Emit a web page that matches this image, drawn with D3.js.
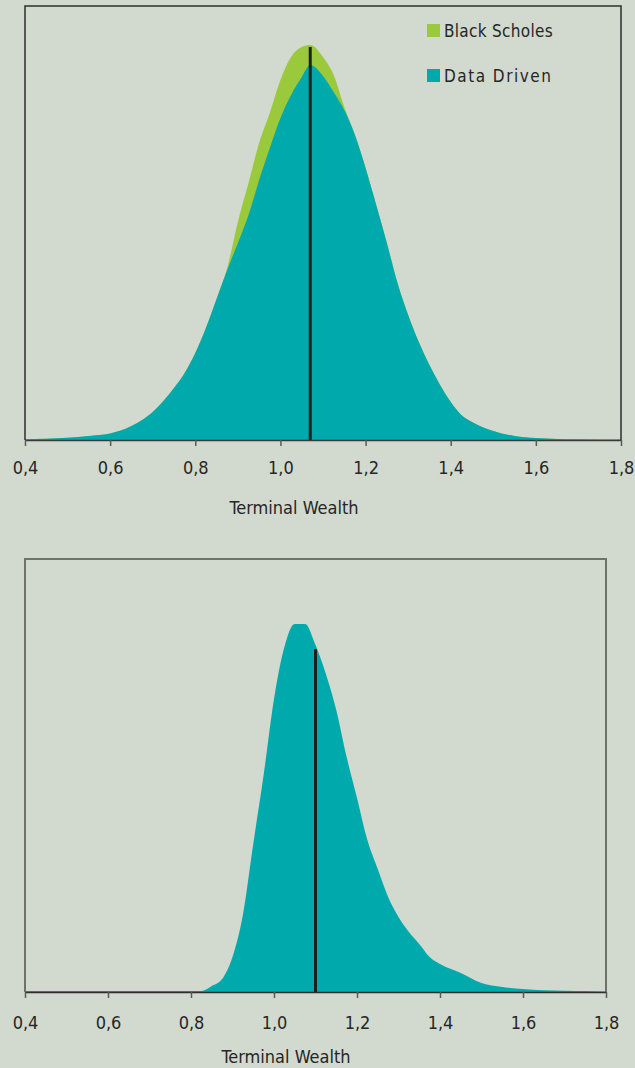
<!DOCTYPE html>
<html>
<head>
<meta charset="utf-8">
<style>
  html, body { margin: 0; padding: 0; background: #d2d9ce; }
  svg { display: block; }
  text { font-family: "DejaVu Sans Condensed", "DejaVu Sans", sans-serif; fill: #262626; }
</style>
</head>
<body>
<script src="https://cdn.jsdelivr.net/npm/d3@7"></script>
<script>

// *** DATA ***

// Top panel: terminal wealth grid and relative densities
var topX = [0.40,0.45,0.50,0.55,0.60,0.65,0.675,0.70,0.725,0.75,0.775,0.80,0.825,0.85,
            0.875,0.90,0.925,0.95,0.975,1.00,1.025,1.05,1.07,
            1.10,1.125,1.15,1.175,1.20,1.225,1.25,1.275,1.30,1.325,1.35,1.375,1.40,1.425,1.45,
            1.50,1.55,1.60,1.65,1.70,1.80];
var topDataDriven = [0.7,1.3,2.3,4,6.5,14,20,28,39,52,67,87,112,141,
                     170,197,225,260,292,322,345,363,375,
                     364,348,330,305,272,235,197,157,125,98,75,55,38,25,18,
                     9,4,2,1,0.7,0.5];
var topBlackScholes = [0.7,1.3,2.3,4,6.5,14,20,28,39,52,67,87,112,141,
                       172,218,257,297,327,360,383,393,395,
                       383,365,333,305,272,235,197,157,125,98,75,55,38,25,18,
                       9,4,2,1,0.7,0.5];
var topMean = 1.07, topMeanHeight = 393;

// Bottom panel
var botX = [0.40,0.60,0.80,0.825,0.85,0.875,0.90,0.925,0.95,0.975,1.00,
            1.025,1.05,1.075,1.10,1.125,1.15,1.175,1.20,
            1.225,1.25,1.275,1.30,1.325,1.35,1.375,1.40,
            1.45,1.50,1.55,1.60,1.65,1.70,1.75,1.80];
var botDataDriven = [1,1,1,1,6,13,35,77,148,217,293,
                     345,368,368,347,318,282,235,194,
                     152,123,95,75,60,48,35,28,
                     19,9,5,3,1.7,1.3,1,0.5];
var botMean = 1.10, botMeanHeight = 343;

var tickValues = [0.4,0.6,0.8,1.0,1.2,1.4,1.6,1.8];
var legendLabels = ["Black Scholes", "Data Driven"];
var axisTitle = "Terminal Wealth";

// *** STYLE ***
var cGreen = "#9aca3c", cTeal = "#00a9ac", cLine = "#1e1e1e";

var svg = d3.select("body").append("svg")
    .attr("width", 635)
    .attr("height", 1068);

// FUNCTION: draw one density panel
function drawPanel(p) {
    var x = d3.scaleLinear().domain([0.4, 1.8]).range([p.left, p.right]);
    var y = d3.scaleLinear().domain([0, p.yMax]).range([p.bottom, p.top]);

    var g = svg.append("g");

    var area = d3.area()
        .x(function(d){ return x(d[0]); })
        .y0(y(0))
        .y1(function(d){ return y(d[1]); })
        .curve(d3.curveMonotoneX);

    p.series.forEach(function(s) {
        g.append("path")
            .datum(d3.zip(p.xs, s.values))
            .attr("d", area)
            .attr("fill", s.color);
    });

    // mean marker
    g.append("line")
        .attr("x1", x(p.mean)).attr("x2", x(p.mean))
        .attr("y1", y(0)).attr("y2", y(p.meanHeight))
        .attr("stroke", cLine)
        .attr("stroke-width", 3);

    // frame (left, top, right)
    g.append("path")
        .attr("d", "M" + p.left + "," + p.bottom + "V" + p.top + "H" + p.right + "V" + p.bottom)
        .attr("fill", "none")
        .attr("stroke", p.frame)
        .attr("stroke-width", p.frameWidth);

    // x axis
    var axis = d3.axisBottom(x)
        .tickValues(tickValues)
        .tickSize(6)
        .tickSizeOuter(0)
        .tickPadding(p.tickPad)
        .tickFormat(function(d){ return d3.format(".1f")(d).replace(".", ","); });

    var ax = g.append("g")
        .attr("transform", "translate(0," + p.bottom + ")")
        .call(axis)
        .attr("font-size", 18)
        .attr("font-family", null);
    ax.select(".domain").attr("stroke", p.axisColor).attr("stroke-width", 1.5);
    ax.selectAll(".tick line").attr("stroke", "#5a5a5a").attr("stroke-width", 1.5);
    ax.selectAll(".tick text").attr("fill", "#262626");

    g.append("text")
        .attr("x", p.titleX)
        .attr("y", p.titleY)
        .attr("text-anchor", "middle")
        .attr("font-size", 18)
        .text(axisTitle);

    return g;
}

drawPanel({
    left: 25, right: 621, top: 6, bottom: 440, yMax: 434,
    xs: topX,
    series: [{values: topBlackScholes, color: cGreen}, {values: topDataDriven, color: cTeal}],
    mean: topMean, meanHeight: topMeanHeight,
    frame: "#2e2e2e", frameWidth: 1.5, axisColor: "#3a3a3a",
    tickPad: 15,
    titleX: 294, titleY: 514
});

drawPanel({
    left: 25, right: 606, top: 559, bottom: 992, yMax: 433,
    xs: botX,
    series: [{values: botDataDriven, color: cTeal}],
    mean: botMean, meanHeight: botMeanHeight,
    frame: "#6e716c", frameWidth: 2, axisColor: "#2e2e2e",
    tickPad: 18,
    titleX: 286, titleY: 1063
});

// LEGEND (top panel)
var legend = svg.append("g").attr("transform", "translate(427,24)");
[cGreen, cTeal].forEach(function(c, i) {
    legend.append("rect")
        .attr("x", 0).attr("y", i * 45)
        .attr("width", 13).attr("height", 13)
        .attr("fill", c);
    legend.append("text")
        .attr("x", 17).attr("y", i * 45 + 12.5)
        .attr("font-size", 17)
        .attr("letter-spacing", i === 1 ? 1.5 : 0.3)
        .text(legendLabels[i]);
});

</script>
</body>
</html>
